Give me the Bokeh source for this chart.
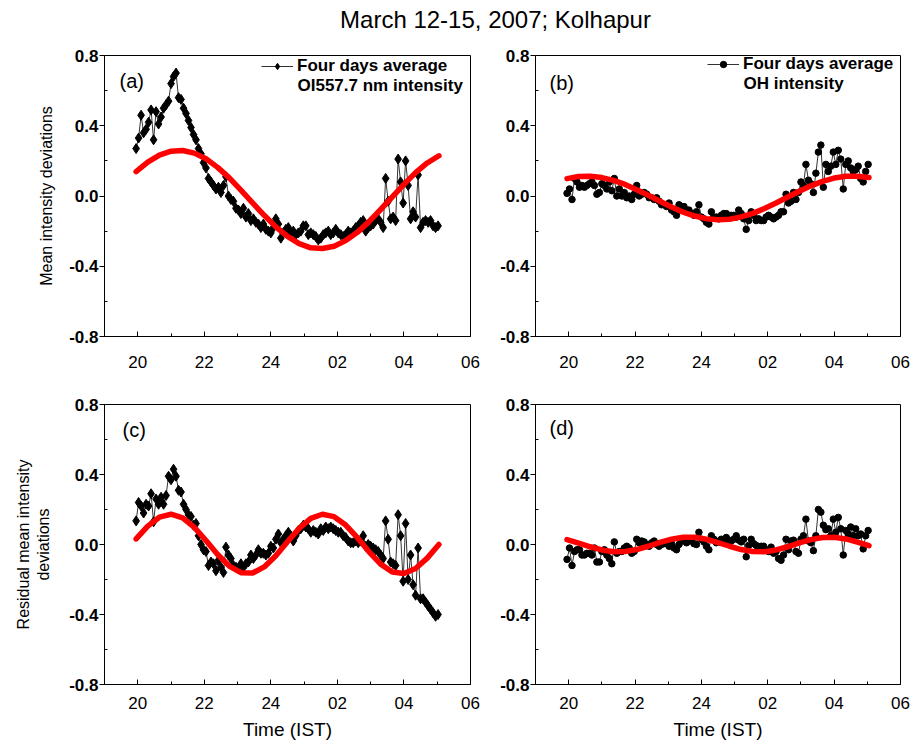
from bokeh.plotting import figure
from bokeh.layouts import column, row
from bokeh.models import (Range1d, FixedTicker, NumeralTickFormatter, Label, Legend,
                          LegendItem, ColumnDataSource)
from bokeh.embed import file_html
from bokeh.resources import INLINE

FONT = "Liberation Sans"

# ---------------- data ----------------
# sampling grid (hours, 24+ = after midnight)
t_start = 19.95
t_step = 0.075
n_samples = 122
times = [round(t_start + t_step * i, 3) for i in range(n_samples)]
fit_times = [round(19.95 + 0.35 * i, 2) for i in range(27)]

hour_ticks = [20, 22, 24, 26, 28, 30]
hour_labels = ["20", "22", "24", "02", "04", "06"]
hour_minor = [19, 21, 23, 25, 27, 29]
y_ticks = [-0.8, -0.4, 0.0, 0.4, 0.8]
y_minor = [-0.6, -0.2, 0.2, 0.6]

# (a) OI 557.7 nm mean intensity deviations
oi_mean = [
    0.27, 0.33, 0.46, 0.36, 0.38, 0.42, 0.49, 0.32, 0.48, 0.41,
    0.45, 0.50, 0.52, 0.54, 0.64, 0.68, 0.70, 0.56, 0.55, 0.50,
    0.47, 0.43, 0.39, 0.35, 0.32, 0.27, 0.24, 0.19, 0.16, 0.10,
    0.08, 0.06, 0.04, 0.05, 0.02, 0.06, 0.11, 0.00, -0.02, -0.03,
    -0.07, -0.08, -0.10, -0.07, -0.12, -0.10, -0.14, -0.13, -0.15, -0.16,
    -0.18, -0.16, -0.19, -0.20, -0.21, -0.18, -0.13, -0.16, -0.24, -0.21,
    -0.19, -0.18, -0.21, -0.20, -0.22, -0.21, -0.20, -0.17, -0.17, -0.22,
    -0.21, -0.22, -0.23, -0.25, -0.24, -0.22, -0.21, -0.20, -0.22, -0.21,
    -0.19, -0.21, -0.22, -0.23, -0.22, -0.20, -0.21, -0.20, -0.18, -0.17,
    -0.15, -0.14, -0.20, -0.18, -0.17, -0.16, -0.14, -0.13, -0.15, -0.18,
    0.10, -0.03, -0.13, -0.12, -0.14, 0.21, 0.08, -0.04, 0.20, 0.06,
    -0.13, -0.09, -0.12, 0.12, -0.18, -0.15, -0.14, -0.15, -0.14, -0.17,
    -0.18, -0.17,
]
oi_fit = [0.139, 0.193, 0.233, 0.255, 0.259, 0.244, 0.212, 0.163, 0.103, 0.033,
          -0.039, -0.110, -0.176, -0.230, -0.271, -0.295, -0.299, -0.286, -0.254,
          -0.207, -0.146, -0.077, -0.005, 0.066, 0.133, 0.188, 0.229]

# (b) OH mean intensity deviations
oh_mean = [
    0.015, 0.04, -0.02, 0.10, 0.08, 0.05, 0.06, 0.05, 0.06, 0.07,
    0.08, 0.06, 0.01, 0.02, 0.07, 0.06, 0.04, 0.08, 0.03, 0.10,
    0.00, 0.04, 0.00, 0.02, -0.01, 0.00, -0.02, 0.01, 0.06, 0.00,
    0.01, 0.02, 0.01, -0.01, -0.01, -0.02, -0.01, -0.03, -0.05, -0.05,
    -0.06, -0.04, -0.08, -0.09, -0.11, -0.05, -0.06, -0.06, -0.09, -0.08,
    -0.10, -0.11, -0.09, -0.05, -0.12, -0.13, -0.15, -0.16, -0.09, -0.12,
    -0.12, -0.13, -0.11, -0.10, -0.10, -0.12, -0.11, -0.11, -0.12, -0.08,
    -0.10, -0.13, -0.19, -0.14, -0.09, -0.11, -0.14, -0.13, -0.14, -0.14,
    -0.12, -0.11, -0.12, -0.13, -0.12, -0.11, -0.09, -0.09, 0.01, -0.04,
    -0.03, 0.02, -0.02, 0.02, 0.08, 0.06, 0.18, 0.09, 0.07, 0.02,
    0.13, 0.25, 0.29, 0.05, 0.18, 0.14, 0.17, 0.25, 0.18, 0.26,
    0.21, 0.04, 0.18, 0.20, 0.16, 0.14, 0.15, 0.17, 0.10, 0.08,
    0.14, 0.18,
]
oh_fit = [0.099, 0.111, 0.113, 0.105, 0.089, 0.066, 0.036, 0.004, -0.030, -0.063,
          -0.092, -0.114, -0.129, -0.135, -0.132, -0.119, -0.099, -0.071, -0.040,
          -0.006, 0.027, 0.058, 0.083, 0.102, 0.112, 0.113, 0.105]

# (c) OI residual mean intensity deviations
oi_resid = [
    0.135, 0.24, 0.22, 0.18, 0.23, 0.22, 0.29, 0.13, 0.26, 0.23,
    0.27, 0.23, 0.28, 0.39, 0.37, 0.43, 0.39, 0.31, 0.30, 0.23,
    0.20, 0.17, 0.16, 0.11, 0.12, 0.05, 0.00, -0.03, -0.04, -0.12,
    -0.10, -0.11, -0.15, -0.09, -0.13, -0.16, -0.015, -0.06, -0.08, -0.12,
    -0.13, -0.14, -0.11, -0.13, -0.11, -0.10, -0.06, -0.08, -0.06, -0.03,
    -0.05, -0.05, -0.06, -0.05, -0.01, -0.02, 0.03, 0.06, 0.01, 0.03,
    0.05, 0.07, 0.05, 0.02, 0.05, 0.08, 0.09, 0.11, 0.10, 0.09,
    0.07, 0.08, 0.07, 0.06, 0.09, 0.08, 0.10, 0.09, 0.10, 0.09,
    0.08, 0.07, 0.07, 0.05, 0.04, 0.02, 0.01, 0.01, 0.02, 0.01,
    0.02, 0.05, -0.01, 0.00, -0.01, -0.02, -0.03, -0.04, -0.06, -0.08,
    0.135, 0.03, -0.10, -0.11, -0.12, 0.17, 0.05, -0.21, 0.12, -0.20,
    -0.06, -0.23, -0.29, -0.02, -0.31, -0.31, -0.33, -0.35, -0.37, -0.39,
    -0.41, -0.40,
]
oi_resid_fit = [0.032, 0.105, 0.156, 0.173, 0.152, 0.098, 0.023, -0.057, -0.123,
                -0.161, -0.163, -0.128, -0.064, 0.016, 0.092, 0.149, 0.173, 0.159,
                0.111, 0.039, -0.042, -0.112, -0.157, -0.166, -0.137, -0.078, 0.000]

# (d) OH residual mean intensity deviations
oh_resid = [
    -0.085, -0.02, -0.12, -0.04, -0.03, -0.03, -0.06, -0.06, -0.05, -0.05,
    -0.06, -0.02, -0.10, -0.10, -0.04, -0.03, -0.06, -0.08, -0.11, 0.015,
    -0.05, -0.04, -0.04, -0.02, -0.01, -0.02, -0.05, -0.04, 0.03, 0.01,
    0.02, 0.015, 0.00, -0.01, 0.01, 0.02, 0.00, -0.01, 0.00, 0.005,
    0.01, -0.01, 0.005, -0.02, -0.03, 0.00, 0.02, 0.03, 0.01, 0.02,
    0.03, 0.005, 0.00, 0.07, 0.03, 0.015, -0.01, -0.03, 0.05, 0.03,
    0.01, 0.02, 0.03, 0.015, 0.04, 0.025, 0.02, 0.03, 0.05, 0.025,
    0.015, 0.03, -0.07, -0.005, 0.03, 0.005, -0.005, -0.02, -0.01, -0.01,
    -0.03, -0.04, -0.015, -0.05, -0.04, -0.08, -0.09, -0.06, 0.03, -0.03,
    0.02, 0.025, -0.04, -0.05, 0.03, 0.05, 0.145, 0.02, 0.01, -0.035,
    0.05, 0.20, 0.185, 0.11, 0.085, 0.09, 0.05, 0.145, 0.07, 0.155,
    0.09, -0.06, 0.08, 0.06, 0.10, 0.05, 0.09, 0.05, 0.06, -0.025,
    0.05, 0.08,
]
oh_resid_fit = [0.028, 0.008, -0.013, -0.031, -0.041, -0.040, -0.029, -0.010, 0.012,
                0.030, 0.041, 0.041, 0.030, 0.011, -0.010, -0.029, -0.040, -0.041,
                -0.031, -0.013, 0.009, 0.028, 0.040, 0.041, 0.032, 0.014, -0.007]


# ---------------- panels ----------------
def make_panel(vals, fit, marker, msize, w, h, bl, br, bt, bb, tag,
               ylabel=None, ylab_standoff=12, xlabel=None, legend_lines=None,
               legend_pos=None, line2_pos=None, xlab_standoff=10):
    p = figure(width=w, height=h, x_range=Range1d(19, 30), y_range=Range1d(-0.8, 0.8),
               output_backend="svg", toolbar_location=None,
               min_border_left=bl, min_border_right=br, min_border_top=bt,
               min_border_bottom=bb, background_fill_color="white",
               border_fill_color="white")
    p.xgrid.visible = False
    p.ygrid.visible = False
    p.outline_line_color = "black"
    p.outline_line_width = 1
    p.outline_line_alpha = 1

    src = ColumnDataSource(dict(t=times, v=vals))
    lr = p.line("t", "v", source=src, line_color="#333333", line_width=1)
    sr = p.scatter("t", "v", source=src, marker=marker, size=msize,
                   fill_color="black", line_color="black")
    p.line(fit_times, fit, line_color="#ff0000", line_width=5.5, line_cap="round",
           line_join="round")

    xa = p.xaxis[0]
    xa.ticker = FixedTicker(ticks=hour_ticks, minor_ticks=hour_minor)
    xa.major_label_overrides = dict(zip(hour_ticks, hour_labels))
    xa.major_tick_in = 5
    xa.major_tick_out = 0
    xa.minor_tick_in = 3
    xa.minor_tick_out = 0
    xa.major_label_standoff = xlab_standoff
    xa.major_label_text_font = FONT
    xa.major_label_text_font_size = "17px"
    xa.major_label_text_color = "black"
    xa.axis_line_color = "black"
    if xlabel:
        xa.axis_label = xlabel
        xa.axis_label_text_font = FONT
        xa.axis_label_text_font_size = "19px"
        xa.axis_label_text_font_style = "normal"
        xa.axis_label_text_color = "black"
        xa.axis_label_standoff = 7

    ya = p.yaxis[0]
    ya.ticker = FixedTicker(ticks=y_ticks, minor_ticks=y_minor)
    ya.formatter = NumeralTickFormatter(format="0.0")
    ya.major_tick_in = 0
    ya.major_tick_out = 5
    ya.minor_tick_in = 3
    ya.minor_tick_out = 0
    ya.major_label_standoff = 1
    ya.major_label_text_font = FONT
    ya.major_label_text_font_size = "17px"
    ya.major_label_text_font_style = "bold"
    ya.major_label_text_color = "black"
    ya.axis_line_color = "black"
    if ylabel:
        ya.axis_label = ylabel
        ya.axis_label_text_font = FONT
        ya.axis_label_text_font_size = "16px"
        ya.axis_label_text_font_style = "normal"
        ya.axis_label_text_color = "black"
        ya.axis_label_standoff = ylab_standoff

    p.add_layout(Label(x=tag[1], y=tag[2], x_units="screen", y_units="screen",
                       text=tag[0], text_font=FONT, text_font_size="20px",
                       text_baseline="middle", text_color="black"))

    if legend_lines:
        leg = Legend(items=[LegendItem(label=legend_lines[0], renderers=[lr, sr])],
                     location=legend_pos, padding=0, margin=0, spacing=0,
                     border_line_color=None, background_fill_alpha=0,
                     label_text_font=FONT, label_text_font_style="bold",
                     label_text_font_size="17px", label_text_color="black",
                     glyph_width=32, glyph_height=16, label_height=16,
                     label_standoff=4)
        p.add_layout(leg)
        p.add_layout(Label(x=line2_pos[0], y=line2_pos[1], x_units="screen",
                           y_units="screen", text=legend_lines[1], text_font=FONT,
                           text_font_style="bold", text_font_size="17px",
                           text_baseline="middle", text_color="black"))
    return p


pa = make_panel(oi_mean, oi_fit, "diamond", 10, 497, 335, 104, 27, 10, 41,
                ("(a)", 15, 256), ylabel="Mean intensity deviations", ylab_standoff=11,
                legend_lines=("Four days average", "OI557.7 nm intensity"),
                legend_pos=(157, 260), line2_pos=(193, 251), xlab_standoff=19)
pb = make_panel(oh_mean, oh_fit, "circle", 6.5, 422, 335, 36, 19, 8, 44,
                ("(b)", 14, 254),
                legend_lines=("Four days average", "OH intensity"),
                legend_pos=(172, 262), line2_pos=(208, 253), xlab_standoff=19)
pc = make_panel(oi_resid, oi_resid_fit, "diamond", 10, 497, 368, 104, 27, 24, 61,
                ("(c)", 18, 255), ylabel="Residual mean intensity\ndeviations",
                ylab_standoff=14, xlabel="Time (IST)", xlab_standoff=12)
pd_ = make_panel(oh_resid, oh_resid_fit, "circle", 6.5, 422, 368, 36, 19, 21, 64,
                 ("(d)", 14, 257), xlabel="Time (IST)", xlab_standoff=12)

# title strip
tp = figure(width=919, height=45, x_range=Range1d(0, 919), y_range=Range1d(0, 45),
            output_backend="svg", toolbar_location=None, min_border=0,
            x_axis_location=None, y_axis_location=None)
tp.grid.visible = False
tp.outline_line_color = None
tp.add_layout(Label(x=495, y=26, text="March 12-15, 2007; Kolhapur", text_align="center",
                    text_baseline="middle", text_font=FONT, text_font_size="24px",
                    text_color="black"))

layout = column(tp, row(pa, pb), row(pc, pd_))
open("out.html", "w").write(file_html(layout, INLINE, "March 12-15, 2007; Kolhapur"))
